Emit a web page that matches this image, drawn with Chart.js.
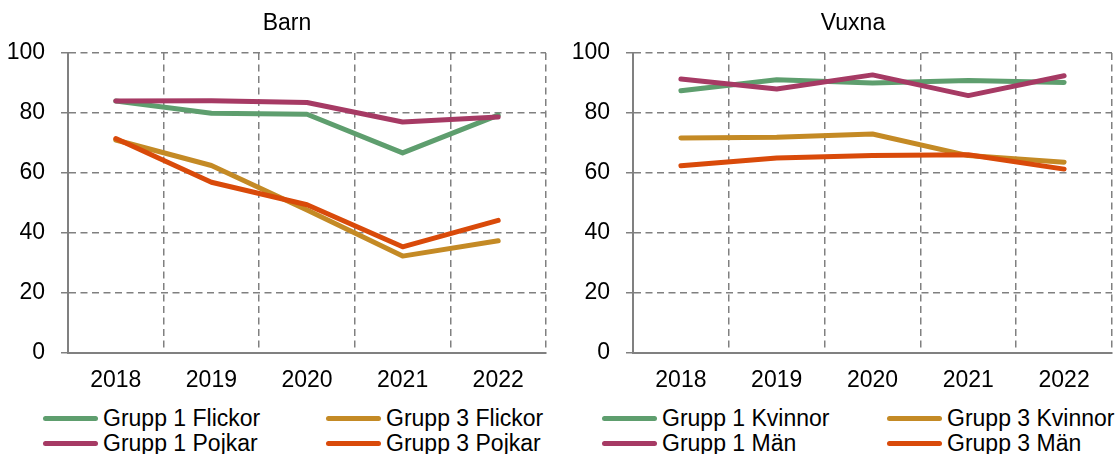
<!DOCTYPE html>
<html>
<head>
<meta charset="utf-8">
<script src="https://cdn.jsdelivr.net/npm/chart.js@4.4.0/dist/chart.umd.min.js"></script>
<style>
  html, body { margin: 0; padding: 0; background: #fff; }
  body { width: 1118px; height: 454px; position: relative; overflow: hidden; font-family: 'Liberation Sans', Arial, sans-serif; }
  .box { position: absolute; top: 0; height: 400px; }
  .title { position: absolute; top: 8px; line-height: 28px; font-size: 23px; color: #000; transform: translateX(-50%); white-space: nowrap; }
  .legend-item { position: absolute; height: 26px; line-height: 26px; font-size: 23px; color: #000; white-space: nowrap; }
  .legend-item .swatch { position: absolute; left: 0; top: 10.5px; width: 55px; height: 5px; border-radius: 3px; }
  .legend-item .label { position: absolute; left: 60px; top: 0; }
</style>
</head>
<body>
<div class="box" style="left:0;width:560px;"><canvas id="barnChart"></canvas></div>
<div class="box" style="left:560px;width:558px;"><canvas id="vuxnaChart"></canvas></div>
<div class="title" style="left:287px;">Barn</div>
<div class="title" style="left:853px;">Vuxna</div>
<div id="legend"></div>

<script>
const years = ['2018', '2019', '2020', '2021', '2022'];

// Barn
const barnFlickorG1 = [84.0, 79.9, 79.6, 66.7, 79.3];
const barnFlickorG3 = [71.0, 62.5, 47.7, 32.3, 37.4];
const barnPojkarG1 = [84.0, 84.1, 83.5, 77.0, 78.7];
const barnPojkarG3 = [71.5, 56.9, 49.4, 35.4, 44.2];

// Vuxna
const vuxnaKvinnorG1 = [87.4, 91.1, 90.0, 90.8, 90.2];
const vuxnaKvinnorG3 = [71.7, 71.9, 73.0, 65.8, 63.6];
const vuxnaManG1 = [91.3, 88.0, 92.7, 85.8, 92.4];
const vuxnaManG3 = [62.4, 65.0, 65.8, 66.1, 61.3];

const colors = {
  green: '#5e9e6e',
  gold: '#c48a25',
  purple: '#a63a64',
  orange: '#d94a0a',
};

const app = {
  font: { family: "'Liberation Sans', Arial, sans-serif", size: 23 },
  gridColor: '#808080',

  makeDataset: function (label, data, color, order) {
    return {
      label: label,
      data: data,
      borderColor: color,
      backgroundColor: color,
      borderWidth: 5,
      pointRadius: 0,
      tension: 0,
      borderCapStyle: 'round',
      borderJoinStyle: 'round',
      order: order, /* later series drawn on top, like the original */
    };
  },

  renderChart: function (canvasId, datasets, padRight, yWidth) {
    const thisApp = this;
    const ctx = document.getElementById(canvasId).getContext('2d');

    // eslint-disable-next-line no-undef
    return new Chart(ctx, {
      type: 'line',
      data: { labels: years, datasets: datasets },
      options: {
        responsive: true,
        maintainAspectRatio: false,
        animation: false,
        layout: { padding: { left: 0, right: padRight, top: 53, bottom: 0 } },
        plugins: {
          legend: { display: false },
          tooltip: { enabled: false },
        },
        scales: {
          x: {
            offset: true,
            grid: {
              offset: true,
              color: thisApp.gridColor,
              lineWidth: 1.5,
              drawTicks: false,
            },
            border: { display: true, color: thisApp.gridColor, width: 2, dash: [7, 4.5] },
            ticks: { color: '#000', font: thisApp.font, padding: 14, maxRotation: 0 },
            afterFit: function (scale) { scale.height = 47; },
          },
          y: {
            min: 0,
            max: 100,
            ticks: { stepSize: 20, color: '#000', font: thisApp.font, padding: 16 },
            grid: {
              color: thisApp.gridColor,
              lineWidth: 1.5,
              tickLength: 7,
              tickColor: thisApp.gridColor,
              tickBorderDash: [],
            },
            border: { display: true, color: thisApp.gridColor, width: 2, dash: [7, 4.5] },
            afterFit: function (scale) { scale.width = yWidth; },
          },
        },
      },
    });
  },

  renderLegend: function (charts) {
    const legend = document.getElementById('legend');
    const cols = [43, 326, 602, 887];
    const rows = [418, 443];

    charts.forEach(function (chart, c) {
      chart.data.datasets.forEach(function (ds, i) {
        const item = document.createElement('div');
        item.className = 'legend-item';
        item.style.left = cols[c * 2 + (i % 2)] + 'px';
        item.style.top = (rows[Math.floor(i / 2)] - 13) + 'px';

        const swatch = document.createElement('span');
        swatch.className = 'swatch';
        swatch.style.background = ds.borderColor;

        const label = document.createElement('span');
        label.className = 'label';
        label.textContent = ds.label;

        item.appendChild(swatch);
        item.appendChild(label);
        legend.appendChild(item);
      });
    });
  },

  init: function () {
    const thisApp = this;

    const barn = thisApp.renderChart('barnChart', [
      thisApp.makeDataset('Grupp 1 Flickor', barnFlickorG1, colors.green, 3),
      thisApp.makeDataset('Grupp 3 Flickor', barnFlickorG3, colors.gold, 2),
      thisApp.makeDataset('Grupp 1 Pojkar', barnPojkarG1, colors.purple, 1),
      thisApp.makeDataset('Grupp 3 Pojkar', barnPojkarG3, colors.orange, 0),
    ], 14, 68);

    const vuxna = thisApp.renderChart('vuxnaChart', [
      thisApp.makeDataset('Grupp 1 Kvinnor', vuxnaKvinnorG1, colors.green, 3),
      thisApp.makeDataset('Grupp 3 Kvinnor', vuxnaKvinnorG3, colors.gold, 2),
      thisApp.makeDataset('Grupp 1 Män', vuxnaManG1, colors.purple, 1),
      thisApp.makeDataset('Grupp 3 Män', vuxnaManG3, colors.orange, 0),
    ], 6, 73);

    thisApp.renderLegend([barn, vuxna]);
  },
};

app.init();
</script>
</body>
</html>
